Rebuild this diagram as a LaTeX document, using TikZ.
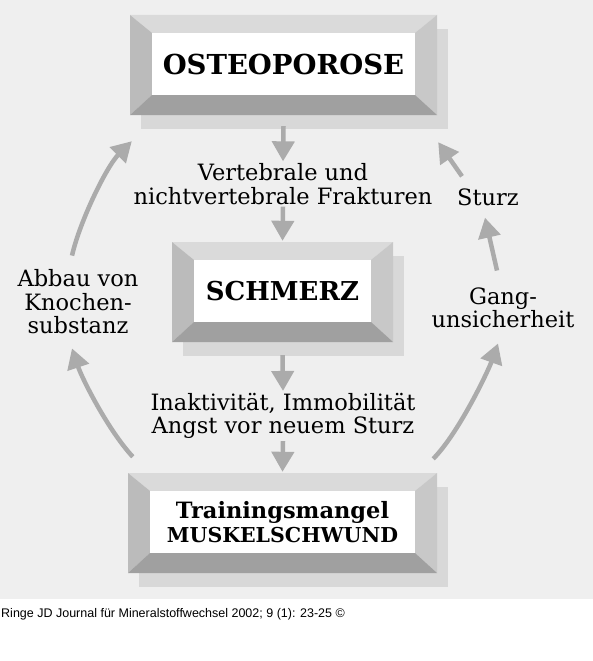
\documentclass[tikz,border=0pt]{standalone}
\usepackage{fontspec}
\setmainfont{DejaVu Serif}
\newfontfamily\capfont{Liberation Sans}
\usetikzlibrary{arrows.meta}

\definecolor{bggray}{HTML}{EFEFEF}
\definecolor{shadowgray}{HTML}{D8D8D8}
\definecolor{topgray}{HTML}{DADADA}
\definecolor{leftgray}{HTML}{BBBBBB}
\definecolor{rightgray}{HTML}{C8C8C8}
\definecolor{bottomgray}{HTML}{A0A0A0}
\definecolor{arrowgray}{HTML}{ABABAB}

\tikzset{
  arr/.style={line width=4.5pt, draw=arrowgray, -{Triangle[width=22pt,length=20pt,fill=arrowgray]}},
  lbl/.style={align=center, font=\fontsize{22.5}{23.5}\selectfont, inner sep=2pt},
  ttl/.style={align=center, inner sep=0pt}
}

% name, x, y, half width, half height, font size, text
\newcommand{\bevbox}[7]{%
  \fill[shadowgray] (#2-#4+11,#3-#5+14) rectangle (#2+#4+11,#3+#5+14);
  \fill[topgray] (#2-#4,#3-#5) -- (#2+#4,#3-#5) -- (#2+#4-22,#3-#5+18) -- (#2-#4+22,#3-#5+18) -- cycle;
  \fill[leftgray] (#2-#4,#3-#5) -- (#2-#4+22,#3-#5+18) -- (#2-#4+22,#3+#5-20) -- (#2-#4,#3+#5) -- cycle;
  \fill[rightgray] (#2+#4,#3-#5) -- (#2+#4-22,#3-#5+18) -- (#2+#4-22,#3+#5-20) -- (#2+#4,#3+#5) -- cycle;
  \fill[bottomgray] (#2-#4,#3+#5) -- (#2-#4+22,#3+#5-20) -- (#2+#4-22,#3+#5-20) -- (#2+#4,#3+#5) -- cycle;
  \fill[white] (#2-#4+22,#3-#5+18) rectangle (#2+#4-22,#3+#5-20);
  \node[ttl, font=\bfseries\fontsize{#6}{24}\selectfont, minimum width=2*#4, minimum height=2*#5] (#1) at (#2,#3-1) {#7};
}

\begin{document}
\begin{tikzpicture}[x=1pt,y=-1pt]
\useasboundingbox (0,0) rectangle (593,661);
\fill[white] (0,0) rectangle (593,661);
\fill[bggray] (0,0) rectangle (593,599);

% boxes
\bevbox{osteo}{283.5}{65}{153.5}{50}{27.5}{OSTEOPOROSE}
\bevbox{schmerz}{282.5}{292}{110.5}{50}{26}{SCHMERZ}
\bevbox{training}{282.5}{523}{154.5}{50}{20.5}{{\fontsize{22.5}{24}\selectfont Trainingsmangel}\\MUSKELSCHWUND}

% labels
\node[lbl] (fract) at (283,184) {Vertebrale und\\nichtvertebrale Frakturen};
\node[lbl] (inakt) at (283,416) {Inaktivität, Immobilität\\Angst vor neuem Sturz};
\node[lbl] (abbau) at (78,302) {Abbau von\\Knochen-\\substanz};
\node[lbl] (gang) at (503,308) {Gang-\\unsicherheit};
\node[lbl] (sturz) at (488,197) {Sturz};

% centre arrows
\draw[arr] ([yshift=-12pt]osteo.south) -- (fract.north);
\draw[arr] (fract.south) -- (schmerz.north);
\draw[arr] ([yshift=-14pt]schmerz.south) -- (inakt.north);
\draw[arr] (inakt.south) -- (training.north);

% left side
\draw[arr] ([shift={(5,-15)}]training.north west) .. controls +(-25,-27) and +(10,30) .. ([xshift=-6pt,yshift=-12pt]abbau.south);
\draw[arr] ([xshift=-6pt,yshift=12pt]abbau.north) .. controls +(8,-35) and +(-25,25) .. ([shift={(2,27)}]osteo.south west);

% right side
\draw[arr] ([shift={(-4,-13)}]training.north east) .. controls +(25,-25) and +(-10,28) .. ([xshift=-5pt,yshift=-13pt]gang.south);
\draw[arr] ([xshift=-6pt,yshift=15pt]gang.north) -- ([xshift=-3pt,yshift=-10pt]sturz.south);
\draw[arr] ([xshift=-26pt,yshift=10pt]sturz.north) -- ([shift={(1,28)}]osteo.south east);

% source
\node[anchor=base west, inner sep=0pt, font=\capfont\fontsize{12.5}{14}\selectfont] (src) at (1,617) {Ringe JD Journal für Mineralstoffwechsel 2002; 9 (1): 23-25 ©};
\end{tikzpicture}
\end{document}
